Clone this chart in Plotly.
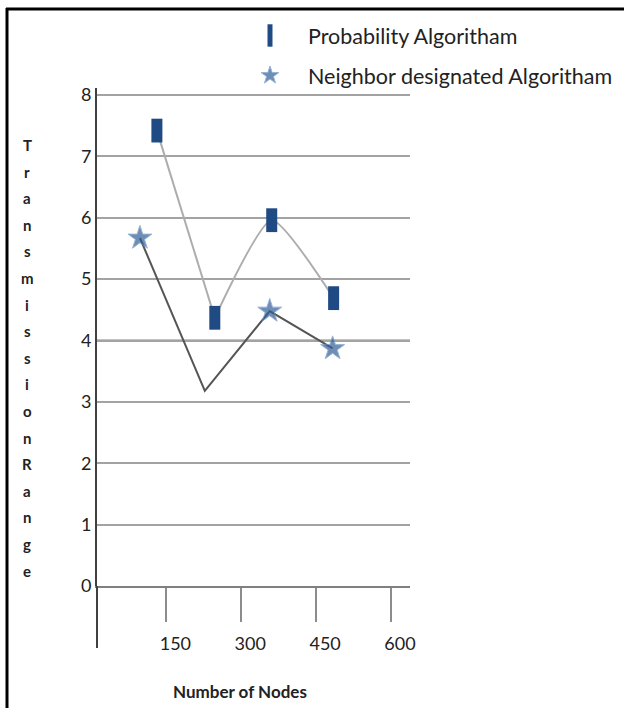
import plotly.graph_objects as go

# ---------------- data ----------------
prob_nodes = [131, 247, 361, 485]
prob_range = [7.42, 4.37, 5.96, 4.69]

nbr_nodes = [97, 227, 357, 483]
nbr_range = [5.67, 3.18, 4.48, 3.87]
nbr_marker_size = [18, 0, 18, 18]   # no marker drawn at the second vertex

x_ticks = [150, 300, 450, 600]
x_tick_labels = ["150", "300", "450", "600"]
y_ticks = [0, 1, 2, 3, 4, 5, 6, 7, 8]
y_tick_labels = ["0", "1", "2", "3", "4", "5", "6", "7", "8"]
highlight_grid = 4

y_title = "TransmissionRange"
x_title = "Number of Nodes"
series_names = ["Probability Algoritham", "Neighbor designated Algoritham"]

# ---------------- layout constants ----------------
W, H = 624, 708
PL, PR, PT, PB = 97, 410, 88, 586
FONT = "Lato"
TXT = "#222222"


def pxx(p):
    return (p - PL) / (PR - PL)


def pxy(p):
    return (PB - p) / (PB - PT)


fig = go.Figure()

# probability line: straight first segment, smoothed remainder
fig.add_trace(go.Scatter(x=prob_nodes[:2], y=prob_range[:2], mode="lines",
                         line=dict(color="#ADADAD", width=2), showlegend=False,
                         hoverinfo="skip"))
fig.add_trace(go.Scatter(x=prob_nodes[1:], y=prob_range[1:], mode="lines",
                         line=dict(color="#ADADAD", width=2, shape="spline", smoothing=0.55),
                         showlegend=False, hoverinfo="skip"))
# neighbor line
fig.add_trace(go.Scatter(x=nbr_nodes, y=nbr_range, mode="lines",
                         line=dict(color="#555555", width=2), showlegend=False,
                         hoverinfo="skip"))
# markers
fig.add_trace(go.Scatter(x=prob_nodes, y=prob_range, mode="markers", name=series_names[0],
                         legendgroup="a",
                         marker=dict(symbol="line-ns", size=17, color="#1F4A84",
                                     line=dict(color="#1F4A84", width=11))))
fig.add_trace(go.Scatter(x=nbr_nodes, y=nbr_range, mode="markers", name=series_names[1],
                         legendgroup="b",
                         marker=dict(symbol="star", size=nbr_marker_size, color="#335F99",
                                     line=dict(color="#6E94C4", width=1))))

shapes = []
# highlighted gridline
shapes.append(dict(type="line", xref="paper", yref="y", x0=0, x1=1,
                   y0=highlight_grid, y1=highlight_grid,
                   line=dict(color="#111111", width=1.5), layer="below"))
# y-axis line continues below the x axis
shapes.append(dict(type="line", xref="paper", yref="paper", x0=0, x1=0,
                   y0=0, y1=pxy(648), line=dict(color="#404040", width=2)))
# image frame (top and left)
shapes.append(dict(type="line", xref="paper", yref="paper", x0=pxx(6), x1=pxx(W + 2),
                   y0=pxy(9), y1=pxy(9), line=dict(color="#000000", width=3)))
shapes.append(dict(type="line", xref="paper", yref="paper", x0=pxx(7), x1=pxx(7),
                   y0=pxy(8), y1=pxy(H + 2), line=dict(color="#000000", width=3)))

annotations = []
for i, ch in enumerate(y_title):
    annotations.append(dict(text="<b>%s</b>" % ch, xref="paper", yref="paper",
                            x=pxx(27), y=pxy(145 + i * 26.6), showarrow=False,
                            xanchor="center", yanchor="middle",
                            font=dict(family=FONT, size=15, color=TXT)))
annotations.append(dict(text="<b>%s</b>" % x_title, xref="paper", yref="paper",
                        x=pxx(240), y=pxy(691), showarrow=False,
                        xanchor="center", yanchor="middle",
                        font=dict(family=FONT, size=17, color=TXT)))

fig.update_layout(
    width=W, height=H,
    margin=dict(l=PL, r=W - PR, t=PT, b=H - PB, pad=0, autoexpand=False),
    paper_bgcolor="white", plot_bgcolor="white",
    font=dict(family=FONT, color=TXT),
    shapes=shapes, annotations=annotations,
    showlegend=True,
    legend=dict(xref="container", yref="container", x=232 / W, y=1 - 15 / H,
                xanchor="left", yanchor="top", itemwidth=66,
                traceorder="grouped", tracegroupgap=9,
                font=dict(family=FONT, size=21.5, color=TXT),
                bgcolor="rgba(0,0,0,0)"),
    xaxis=dict(range=[11, 638], tickvals=x_ticks, ticktext=x_tick_labels,
               showgrid=False, zeroline=False, showline=True, linecolor="#808080",
               linewidth=2, ticks="outside", ticklen=34, tickwidth=2, tickcolor="#8C8C8C",
               ticklabelshift=9, ticklabelstandoff=6, automargin=False,
               tickfont=dict(family=FONT, size=18, color=TXT)),
    yaxis=dict(range=[0, 8.114], tickvals=y_ticks, ticktext=y_tick_labels,
               showgrid=True, gridcolor="#A3A3A3", gridwidth=2, zeroline=False,
               showline=True, linecolor="#404040", linewidth=2, ticks="",
               ticklabelstandoff=0, automargin=False,
               tickfont=dict(family=FONT, size=18, color=TXT)),
)

fig.write_html("out.html", config={"displayModeBar": False},
               post_script="document.body.style.margin='0px';")
